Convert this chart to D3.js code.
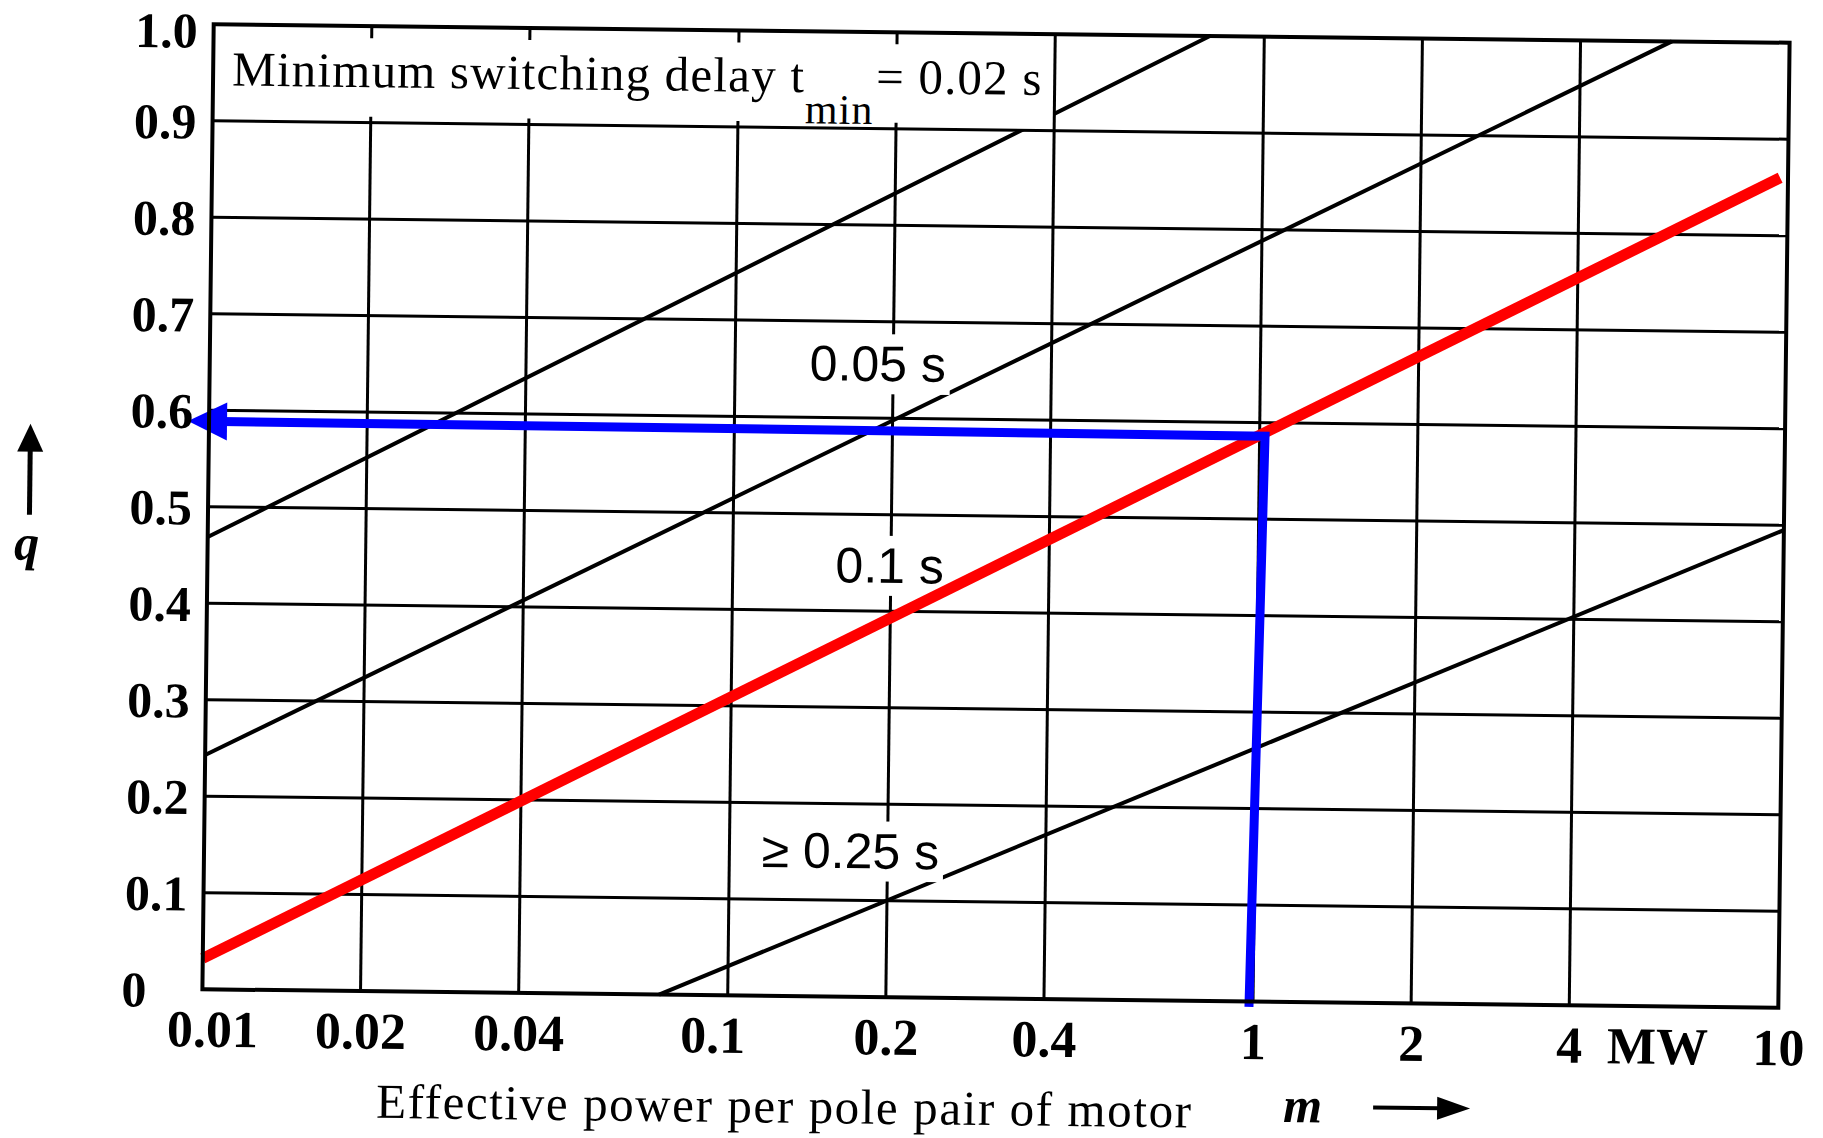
<!DOCTYPE html>
<html><head><meta charset="utf-8">
<script src="https://cdn.jsdelivr.net/npm/d3@7"></script>
<style>html,body{margin:0;padding:0;background:#fff;} svg{display:block;}</style>
</head><body>
<svg id="chart" width="1823" height="1138"></svg>
<script>
// ---------- data ----------
const xTicks = [0.01, 0.02, 0.04, 0.1, 0.2, 0.4, 1, 2, 4, 10];
const xTickLabels = ["0.01", "0.02", "0.04", "0.1", "0.2", "0.4", "1", "2", "4", "10"];
const yTicks = [0, 0.1, 0.2, 0.3, 0.4, 0.5, 0.6, 0.7, 0.8, 0.9, 1.0];
const yTickLabels = ["0", "0.1", "0.2", "0.3", "0.4", "0.5", "0.6", "0.7", "0.8", "0.9", "1.0"];
const xUnit = "MW";
const xUnitAt = 5.9;

// switching-delay curves (straight in log-p / linear-q space): start & end points
const curveDelays = ["0.02 s", "0.05 s", "0.1 s", "≥ 0.25 s"];
const curveP = [[0.01, 0.788], [0.01, 5.97], [0.01, 9.66], [0.074, 10]];
const curveQ = [[0.4686, 1.0], [0.2427, 1.0], [0.032, 0.86], [0.0, 0.495]];
const highlightedCurve = 2;   // 0.1 s curve, drawn in red

// in-chart curve labels
const labelText = ["0.05 s", "0.1 s", "≥ 0.25 s"];
const labelP = [0.187, 0.199, 0.170];
const labelQ = [0.657, 0.448, 0.152];

// blue read-out path: arrow tip on q axis -> point on red curve -> down to p axis
const readP = [0.00912, 1.024, 0.9827];
const readQ = [0.5887, 0.586, -0.0057];

// box limits (p, q)
const boxP = [0.01, 0.4];
const boxQ = [0.9, 1.0];
const boxTitle = "Minimum switching delay t";
const boxSub = "min";
const boxValue = "= 0.02 s";

const xTitle = "Effective power per pole pair of motor";
const xSymbol = "m";
const ySymbol = "q";

// ---------- layout ----------
const plot = {left: 208, top: 33.5, width: 1576, height: 965};
const svg = d3.select("#chart");
svg.append("rect").attr("width", 1823).attr("height", 1138).attr("fill", "#fff");
const root = svg.append("g").attr("transform", "rotate(0.67, 996, 516)");

const x = d3.scaleLog().domain([0.01, 10]).range([plot.left, plot.left + plot.width]);
const y = d3.scaleLinear().domain([0, 1]).range([plot.top + plot.height, plot.top]);

const serif = "'Liberation Serif', 'Times New Roman', serif";
const sans = "'Liberation Sans', Arial, sans-serif";

// ---------- curves (black) ----------
const line = d3.line().x(d => x(d[0])).y(d => y(d[1]));
const curves = curveP.map((ps, i) => ps.map((p, j) => [p, curveQ[i][j]]));
root.append("g").selectAll("path")
  .data(curves.filter((c, i) => i !== highlightedCurve))
  .join("path")
  .attr("d", line).attr("fill", "none").attr("stroke", "#000").attr("stroke-width", 4);

// box: white area
root.append("rect")
  .attr("x", x(boxP[0])).attr("y", y(boxQ[1]))
  .attr("width", x(boxP[1]) - x(boxP[0])).attr("height", y(boxQ[0]) - y(boxQ[1]))
  .attr("fill", "#fff");

// ---------- grid ----------
const grid = root.append("g").attr("stroke", "#000").attr("stroke-width", 3);
xTicks.slice(1, -1).forEach(t => {
  const inBox = t < boxP[1];
  grid.append("line").attr("x1", x(t)).attr("x2", x(t))
    .attr("y1", y(0)).attr("y2", inBox ? y(boxQ[0]) - 6 : y(1));
  if (inBox) {
    grid.append("line").attr("x1", x(t)).attr("x2", x(t))
      .attr("y1", y(1)).attr("y2", y(1) + 12);
  }
});
yTicks.slice(1, -1).forEach(t => {
  grid.append("line").attr("x1", x(0.01)).attr("x2", x(10)).attr("y1", y(t)).attr("y2", y(t));
});

// box title
const bt = root.append("text")
  .attr("x", plot.left + 19).attr("y", plot.top + 61)
  .attr("font-family", serif).attr("font-size", 49).attr("letter-spacing", 1.2).attr("fill", "#000");
bt.append("tspan").text(boxTitle);
bt.append("tspan").attr("font-size", 42).attr("dy", 31).text(boxSub);
bt.append("tspan").attr("dy", -31).attr("dx", 2).text(boxValue);

// ---------- curve labels ----------
const lab = root.append("g");
labelText.forEach((t, i) => {
  const g = lab.append("g");
  const tx = g.append("text")
    .attr("x", x(labelP[i])).attr("y", y(labelQ[i])).attr("dy", "0.36em")
    .attr("text-anchor", "middle").attr("font-family", sans).attr("font-size", 50)
    .attr("fill", "#000").text(t);
  const bb = tx.node().getBBox();
  g.insert("rect", "text").attr("x", bb.x - 4).attr("y", bb.y - 2)
    .attr("width", bb.width + 8).attr("height", bb.height + 4).attr("fill", "#fff");
});

// ---------- red highlighted curve ----------
root.append("path").datum(curves[highlightedCurve])
  .attr("d", line).attr("fill", "none").attr("stroke", "#ff0000").attr("stroke-width", 11);

// ---------- blue read-out ----------
const bp = readP.map((p, i) => [x(p), y(readQ[i])]);
const headLen = 39, headHalf = 19;
const bluePts = [[bp[0][0] + headLen - 6, bp[0][1] + (bp[1][1] - bp[0][1]) * (headLen - 6) / (bp[1][0] - bp[0][0])], bp[1], bp[2]];
root.append("path").attr("d", d3.line()(bluePts))
  .attr("fill", "none").attr("stroke", "#0000ff").attr("stroke-width", 9)
  .attr("stroke-linejoin", "miter");
root.append("path")
  .attr("d", `M${bp[0][0]},${bp[0][1]}L${bp[0][0] + headLen},${bp[0][1] - headHalf}L${bp[0][0] + headLen},${bp[0][1] + headHalf}Z`)
  .attr("fill", "#0000ff");

// ---------- frame ----------
root.append("rect").attr("x", plot.left).attr("y", plot.top)
  .attr("width", plot.width).attr("height", plot.height)
  .attr("fill", "none").attr("stroke", "#000").attr("stroke-width", 4);

// ---------- axes ----------
const yAxis = root.append("g").attr("transform", `translate(${plot.left},0)`)
  .call(d3.axisLeft(y).tickValues(yTicks).tickFormat((d, i) => yTickLabels[i]).tickSize(0).tickPadding(16));
yAxis.select(".domain").remove();
yAxis.selectAll("text")
  .attr("font-family", serif).attr("font-size", 50).attr("font-weight", "bold").attr("fill", "#000")
  .attr("dy", d => d === 1 ? "0.46em" : "0.35em")
  .each(function (d) {
    if (d === 0) d3.select(this).attr("text-anchor", "start").attr("x", -81);
  });

const xNudge = {"0.01": 10, "0.1": -15};
const xAxis = root.append("g").attr("transform", `translate(0,${plot.top + plot.height})`)
  .call(d3.axisBottom(x).tickValues(xTicks).tickFormat((d, i) => xTickLabels[i]).tickSize(0));
xAxis.select(".domain").remove();
xAxis.selectAll("text")
  .attr("font-family", serif).attr("font-size", 52).attr("font-weight", "bold").attr("fill", "#000")
  .attr("y", 57.5).attr("dy", 0)
  .attr("dx", (d, i) => xNudge[xTickLabels[i]] || 0);
xAxis.append("text").attr("x", x(xUnitAt)).attr("y", 57.5).attr("text-anchor", "middle")
  .attr("font-family", serif).attr("font-size", 52).attr("font-weight", "bold").attr("fill", "#000")
  .text(xUnit);

// x title
root.append("text").attr("x", 383).attr("y", plot.top + plot.height + 126.5)
  .attr("font-family", serif).attr("font-size", 49).attr("fill", "#000")
  .attr("textLength", 815).attr("lengthAdjust", "spacing").text(xTitle);
root.append("text").attr("x", 1290).attr("y", plot.top + plot.height + 120)
  .attr("font-family", serif).attr("font-size", 50).attr("font-style", "italic").attr("font-weight", "bold")
  .attr("fill", "#000").text(xSymbol);
const ax = {x1: 1380, x2: 1477, y: plot.top + plot.height + 104.5};
root.append("line").attr("x1", ax.x1).attr("x2", ax.x2 - 30).attr("y1", ax.y).attr("y2", ax.y)
  .attr("stroke", "#000").attr("stroke-width", 4);
root.append("path").attr("d", `M${ax.x2},${ax.y}L${ax.x2 - 33},${ax.y - 11.5}L${ax.x2 - 33},${ax.y + 11.5}Z`).attr("fill", "#000");

// y symbol with arrow
const ay = {x: 29.5, top: 435, bottom: 526};
root.append("line").attr("x1", ay.x).attr("x2", ay.x).attr("y1", ay.bottom).attr("y2", ay.top + 25)
  .attr("stroke", "#000").attr("stroke-width", 5);
root.append("path").attr("d", `M${ay.x},${ay.top}L${ay.x - 13},${ay.top + 28}L${ay.x + 13},${ay.top + 28}Z`).attr("fill", "#000");
root.append("text").attr("x", 27).attr("y", 571).attr("text-anchor", "middle")
  .attr("font-family", serif).attr("font-size", 50).attr("font-style", "italic").attr("font-weight", "bold")
  .attr("fill", "#000").text(ySymbol);
</script>
</body></html>
